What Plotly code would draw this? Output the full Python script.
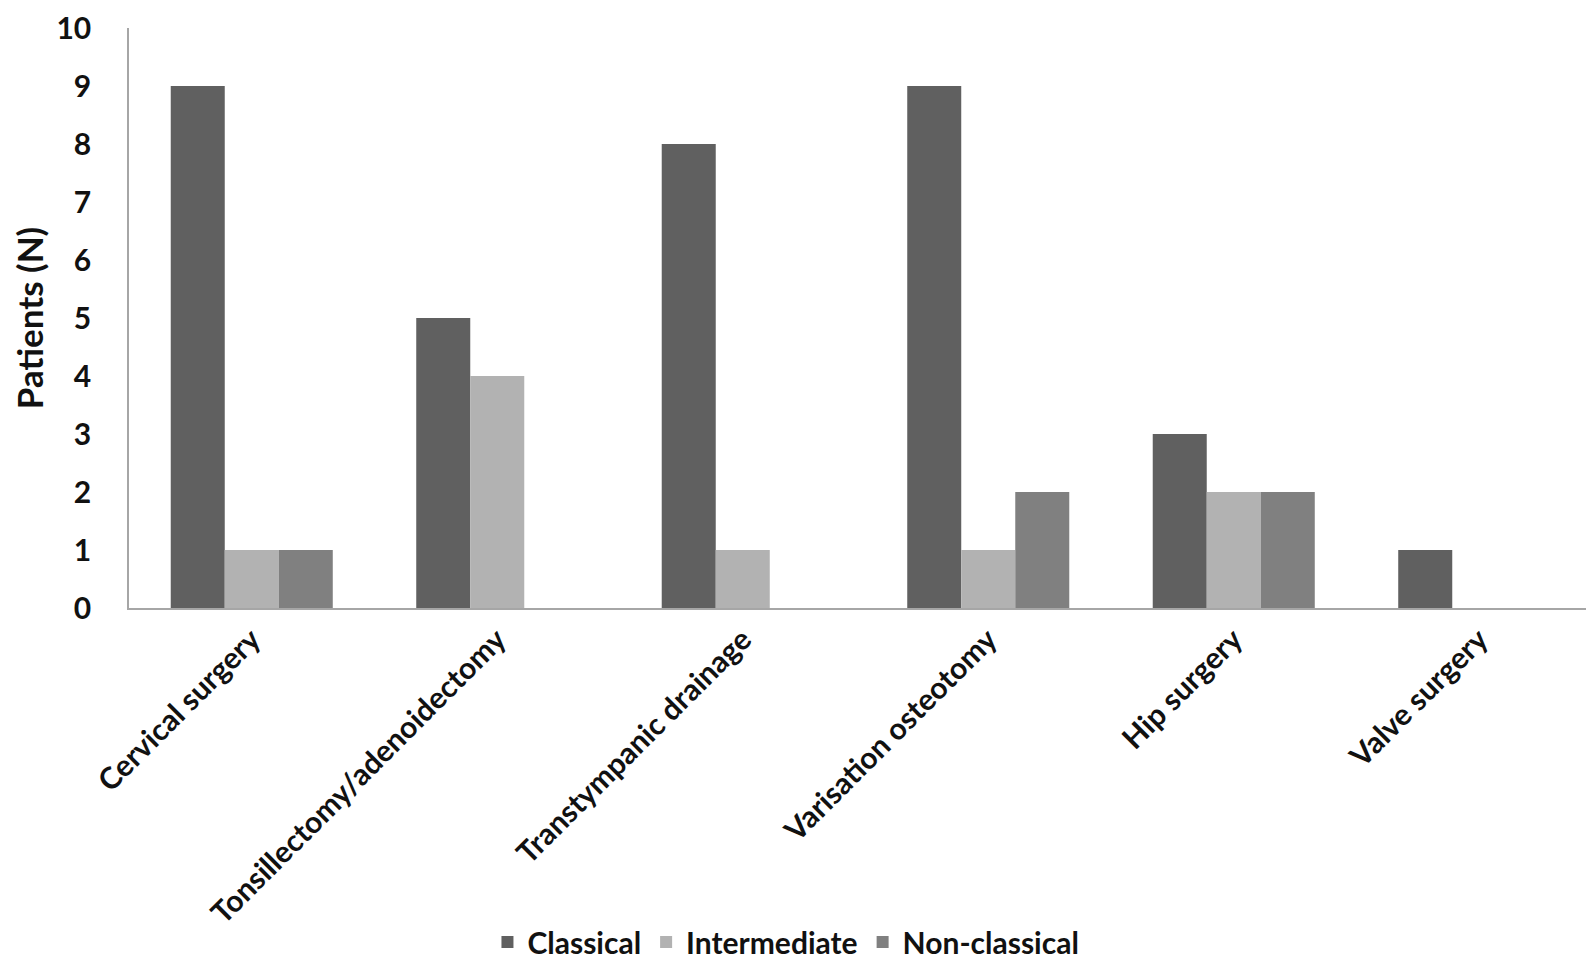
import plotly.graph_objects as go

categories = ["Cervical surgery", "Tonsillectomy/adenoidectomy", "Transtympanic drainage",
              "Varisation osteotomy", "Hip surgery", "Valve surgery"]
classical = [9, 5, 8, 9, 3, 1]
intermediate = [1, 4, 1, 1, 2, 0]
non_classical = [1, 0, 0, 2, 2, 0]

series = [("Classical", classical, "#606060"),
          ("Intermediate", intermediate, "#b2b2b2"),
          ("Non-classical", non_classical, "#808080")]

fig = go.Figure()
for name, vals, col in series:
    fig.add_trace(go.Bar(x=categories, y=vals, name=name,
                         marker=dict(color=col, line=dict(width=0))))

font = "Lato, 'Open Sans', sans-serif"
W, H = 1594, 962
l, r, t, b = 121, 0, 20, 362
ph = H - t - b
bold = dict(family=font, size=30, color="#111111", weight="bold")

fig.update_layout(
    width=W, height=H,
    margin=dict(l=l, r=r, t=t, b=b, autoexpand=False),
    paper_bgcolor="white", plot_bgcolor="white",
    barmode="group", bargap=0.34, bargroupgap=0,
    font=dict(family=font, size=30, color="#111111"),
    showlegend=True,
    legend=dict(orientation="h", x=0.446, xanchor="center",
                y=(600 - 934) / ph, yanchor="middle",
                font=bold, itemsizing="constant", traceorder="normal",
                itemwidth=30),
    xaxis=dict(showline=True, linecolor="#a6a6a6", linewidth=2, showgrid=False,
               ticks="", tickangle=-45, tickfont=bold),
    yaxis=dict(range=[0, 10], tickvals=list(range(0, 11)), showline=True,
               linecolor="#a6a6a6", linewidth=1.5,
               showgrid=False, zeroline=False, ticks="", ticklabelstandoff=30,
               ticklabeloverflow="allow",
               tickfont=bold,
               title=dict(text="Patients (N)", standoff=28,
                          font=dict(family=font, size=35, color="#111111", weight="bold"))),
)

fig.write_html("out.html")
